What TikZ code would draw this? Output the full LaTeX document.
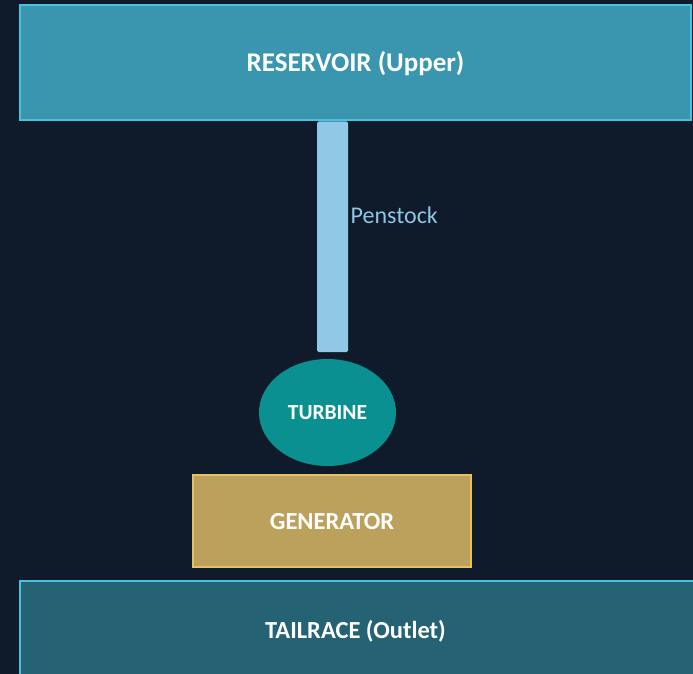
\documentclass[tikz,border=0pt]{standalone}
\usepackage{fontspec}
\setmainfont{Carlito}
\usetikzlibrary{shapes.geometric}
\definecolor{bgc}{HTML}{0F1B2A}
\definecolor{resfill}{HTML}{3A96AE}
\definecolor{cyanb}{HTML}{45C3E0}
\definecolor{pipec}{HTML}{90C8E6}
\definecolor{pipetxt}{HTML}{8EC5E5}
\definecolor{turbc}{HTML}{0A9090}
\definecolor{genfill}{HTML}{BCA15D}
\definecolor{genb}{HTML}{E8C062}
\definecolor{tailfill}{HTML}{256274}
\tikzset{
  boxlabel/.style={text=white,font=\bfseries\fontsize{24.5}{27}\selectfont},
}
\begin{document}
\begin{tikzpicture}[x=1pt,y=-1pt]
\fill[bgc] (0,0) rectangle (693,674);
\useasboundingbox (0,0) rectangle (693,674);
% reservoir
\filldraw[fill=resfill,draw=cyanb,line width=2.5pt] (20,5) rectangle (691,120);
\node[boxlabel,font=\bfseries\fontsize{27}{30}\selectfont] (res) at (355.5,64) {RESERVOIR (Upper)};
% penstock
\fill[pipec,rounded corners=1.5pt] (317,121.5) rectangle (348,352);
\coordinate (pen) at (332.5,236);
\node[anchor=west,text=pipetxt,font=\fontsize{24}{27}\selectfont,inner sep=0pt] (penlbl) at (350.5,215) {Penstock};
% turbine
\node[ellipse,fill=turbc,minimum width=137pt,minimum height=107pt,inner sep=0pt] (turb) at (327.5,412.5) {};
\node[text=white,font=\bfseries\fontsize{21.5}{24}\selectfont] (turblbl) at (turb.center) {TURBINE};
% generator
\filldraw[fill=genfill,draw=genb,line width=2.5pt] (193,475) rectangle (471,567);
\node[boxlabel] (gen) at (332,522) {GENERATOR};
% tailrace
\filldraw[fill=tailfill,draw=cyanb,line width=2.5pt] (20,581) rectangle (700,690);
\node[boxlabel] (tail) at (355.5,631.5) {TAILRACE (Outlet)};
\end{tikzpicture}
\end{document}
